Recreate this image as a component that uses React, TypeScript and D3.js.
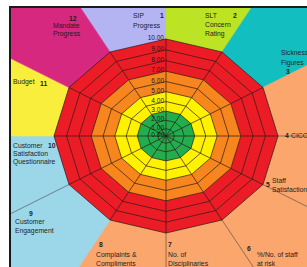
import React from 'react';
import * as d3 from 'd3';

// categories clockwise from the top axis
const categories = [
  'SIP Progress', 'SLT Concern Rating', 'Sickness Figures', 'CICO',
  'Staff Satisfaction', '%/No. of staff at risk', 'No. of Disciplinaries',
  'Complaints & Compliments', 'Customer Engagement',
  'Customer Satisfaction Questionnaire', 'Budget', 'Mandate Progress',
];
const categoryNumbers = [1, 2, 3, 4, 5, 6, 7, 8, 9, 10, 11, 12];
const labelLines = [
  ['SIP', 'Progress'], ['SLT', 'Concern', 'Rating'], ['Sickness', 'Figures'], ['CICO'],
  ['Staff', 'Satisfaction'], ['%/No. of staff', 'at risk'], ['No. of', 'Disciplinaries'],
  ['Complaints &', 'Compliments'], ['Customer', 'Engagement'],
  ['Customer', 'Satisfaction', 'Questionnaire'], ['Budget'], ['Mandate', 'Progress'],
];
// background zone that holds each category's label (sector ending at its axis)
const zoneOf = ['lavender', 'lime', 'teal', 'salmon', 'salmon', 'salmon', 'salmon', 'salmon', 'blue', 'blue', 'yellow', 'magenta'];
// rating bands (outer value of each filled ring)
const bandTops = [10, 7, 5, 3];
const bandNames = ['red', 'orange', 'yellow', 'green'];
const tickValues = [0, 1, 2, 3, 4, 5, 6, 7, 8, 9, 10];

const zoneColors: Record<string, string> = {
  lavender: '#b4b4f2', lime: '#bde325', teal: '#13bec0', salmon: '#fba66c',
  blue: '#9cd7e9', yellow: '#f9ee3c', magenta: '#d7287f',
};
const bandColors: Record<string, string> = {
  red: '#ec1c26', orange: '#f7861f', yellow: '#fff200', green: '#22ad4e',
};

// label placement: [text x, first line y, line step, number x, number y]
const labelPos: number[][] = [
  [133, 15, 10, 160, 15], [205, 15, 9, 233, 15], [281, 52, 10, 286, 71], [291, 135, 9, 285, 135],
  [272, 180, 9, 266, 184], [257, 254, 9, 247, 248], [168, 254, 9.5, 168, 244], [96, 254, 9.5, 99, 244],
  [15, 221, 9, 29, 213], [13, 145, 8.2, 48, 145], [13, 81, 9, 40, 83], [53, 25, 8.5, 69, 18],
];

const W = 307, H = 267;
const cx = 166, cy = 136, rx = 112, ry = 97;
const font = '"Liberation Sans", Arial, sans-serif';

const angle = d3.scaleLinear().domain([0, categories.length]).range([0, 2 * Math.PI]);
const radius = d3.scalePow().exponent(1.13).domain([0, 10]).range([0, 1]);

const toXY = (a: number, r: number): [number, number] => [cx + rx * r * Math.sin(a), cy - ry * r * Math.cos(a)];
const pt = (i: number, v: number) => toXY(angle(i), radius(v));
const ring = d3.line().curve(d3.curveLinearClosed);

export default function App() {
  const idx = d3.range(categories.length);

  const sectors = idx.map(i => {
    const a0 = angle(i - 1), a1 = angle(i);
    const pts = [toXY(0, 0), toXY(a0, 5), toXY((a0 + a1) / 2, 5), toXY(a1, 5)];
    const c = zoneColors[zoneOf[i]];
    return <path key={i} d={ring(pts) || ''} fill={c} stroke={c} strokeWidth={0.6} />;
  });

  const zoneLines = idx
    .filter(i => zoneOf[i] === zoneOf[(i + 1) % categories.length])
    .map(i => {
      const [x1, y1] = toXY(angle(i), 0);
      const [x2, y2] = toXY(angle(i), 5);
      return <line key={i} x1={x1} y1={y1} x2={x2} y2={y2} stroke="#3a3a3a" strokeOpacity={0.7} strokeWidth={0.8} />;
    });

  const bands = bandTops.map((v, b) => (
    <path key={b} d={ring(idx.map(i => pt(i, v))) || ''} fill={bandColors[bandNames[b]]} />
  ));

  const grid = tickValues.filter(v => v > 0).map(v => (
    <path key={v} d={ring(idx.map(i => pt(i, v))) || ''} fill="none" stroke="#2a1a12" strokeWidth={0.7} />
  ));
  const spokes = idx.map(i => {
    const [x2, y2] = pt(i, 10);
    return <line key={i} x1={cx} y1={cy} x2={x2} y2={y2} stroke="#2a1a12" strokeWidth={0.7} />;
  });

  const tickLabels = tickValues.map(v => (
    <text key={v} x={cx - 2} y={pt(0, v)[1] - 1.5} textAnchor="end" dominantBaseline="central"
      fontSize={6.5} fill="#1a1a1a" fontFamily={font}>{d3.format('.2f')(v)}</text>
  ));

  const labels = idx.map(i => {
    const [tx, ty, step, nx, ny] = labelPos[i];
    return (
      <g key={i} fontFamily={font} fontSize={6.8} fill="#1e1e1e">
        <text x={nx} y={ny} dominantBaseline="central" fontWeight="bold">{categoryNumbers[i]}</text>
        {labelLines[i].map((s, k) => (
          <text key={k} x={tx} y={ty + k * step} dominantBaseline="central">{s}</text>
        ))}
      </g>
    );
  });

  return (
    <svg width={W} height={H} style={{ position: 'absolute', left: 0, top: 0, background: '#fff' }}>
      <defs>
        <clipPath id="frame"><rect x={10} y={7} width={W} height={H} /></clipPath>
      </defs>
      <g clipPath="url(#frame)">
        {sectors}
        {zoneLines}
        {bands}
        {grid}
        {spokes}
        {tickLabels}
        {labels}
      </g>
      <rect x={10} y={7} width={W + 10} height={H + 10} fill="none" stroke="#1a1a1a" strokeWidth={2} />
    </svg>
  );
}
